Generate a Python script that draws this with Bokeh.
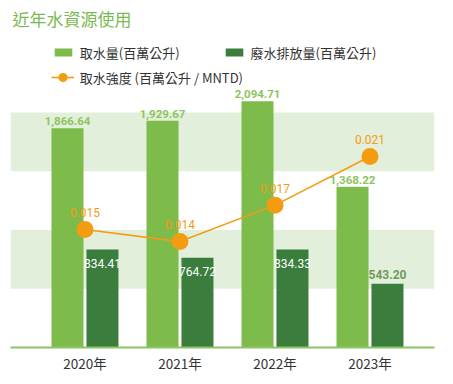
from bokeh.plotting import figure
from bokeh.models import Range1d, FixedTicker, Legend, LegendItem, Label, Grid, ColumnDataSource
from bokeh.core.properties import value
from bokeh.embed import file_html
from bokeh.resources import INLINE

# ---- data ----
years = ["2020年", "2021年", "2022年", "2023年"]
withdrawal = [1866.64, 1929.67, 2094.71, 1368.22]
discharge = [834.41, 764.72, 834.33, 543.20]
intensity = [0.015, 0.014, 0.017, 0.021]
withdrawal_labels = ["1,866.64", "1,929.67", "2,094.71", "1,368.22"]
discharge_labels = ["834.41", "764.72", "834.33", "543.20"]
intensity_labels = ["0.015", "0.014", "0.017", "0.021"]
band_ticks = [0, 500, 1000, 1500, 2000]

# ---- styles ----
LIGHT = "#7dbb4a"
DARK = "#3a7d3c"
ORANGE = "#f39c12"
BAND = "#e2efda"
AXIS = "#8cc466"
TEXT = "#333333"
CJK = "Noto Sans CJK TC"
NUM = "Roboto"

idx = list(range(len(years)))
off = 0.184
bw = 0.337

src = ColumnDataSource(dict(
    xl=[i - off for i in idx], xd=[i + off for i in idx], xc=idx,
    withdrawal=withdrawal, discharge=discharge, intensity=intensity,
    wl=withdrawal_labels, dl=discharge_labels, il=intensity_labels,
))
inside = [i for i, v in enumerate(discharge) if v > 600]
outside = [i for i, v in enumerate(discharge) if v <= 600]
src_in = ColumnDataSource(dict(x=[idx[i] + off for i in inside], y=[discharge[i] for i in inside],
                               t=[discharge_labels[i] for i in inside]))
src_out = ColumnDataSource(dict(x=[idx[i] + off for i in outside], y=[discharge[i] for i in outside],
                                t=[discharge_labels[i] for i in outside]))

p = figure(width=448, height=378, output_backend="svg", toolbar_location=None,
           x_range=Range1d(-0.784, 3.679), y_range=Range1d(0, 2953),
           y_axis_location=None, min_border_left=10, min_border_right=14,
           min_border_top=0, min_border_bottom=31)
p.extra_y_ranges = {"int": Range1d(0.00529, 0.03383)}
p.outline_line_color = None
p.background_fill_color = "white"
for g in p.grid:
    g.visible = False

band_grid = Grid(dimension=1, ticker=FixedTicker(ticks=band_ticks),
                 grid_line_color=None, band_fill_color=BAND, band_fill_alpha=1.0)
p.add_layout(band_grid)

ax = p.xaxis[0]
ax.ticker = FixedTicker(ticks=idx)
ax.major_label_overrides = {i: y for i, y in zip(idx, years)}
ax.axis_line_color = AXIS
ax.axis_line_width = 2
ax.major_tick_line_color = None
ax.minor_tick_line_color = None
ax.major_tick_out = 0
ax.major_tick_in = 0
ax.minor_tick_out = 0
ax.minor_tick_in = 0
ax.major_label_text_font = CJK
ax.major_label_text_font_size = "13.5px"
ax.major_label_text_color = TEXT
ax.major_label_standoff = 5

r1 = p.vbar(x="xl", top="withdrawal", width=bw, source=src, fill_color=LIGHT, line_color=None)
r2 = p.vbar(x="xd", top="discharge", width=bw, source=src, fill_color=DARK, line_color=None)
r3 = p.line(x="xc", y="intensity", source=src, y_range_name="int", line_color=ORANGE, line_width=1.6)
r4 = p.scatter(x="xc", y="intensity", source=src, y_range_name="int", size=17,
               fill_color=ORANGE, line_color=None)

p.text(x="xl", y="withdrawal", text="wl", source=src, text_align="center", text_baseline="bottom",
       y_offset=-3, text_font=value(NUM), text_font_size="11.5px", text_font_style="bold",
       text_color="#8cc55e")
p.text(x="x", y="y", text="t", source=src_in, text_align="center", text_baseline="middle",
       y_offset=14, text_font=value(NUM), text_font_size="12px", text_color="white")
p.text(x="x", y="y", text="t", source=src_out, text_align="center", text_baseline="middle",
       y_offset=-9, text_font=value(NUM), text_font_size="12px", text_font_style="bold",
       text_color="#6f9a5e")
p.text(x="xc", y="intensity", text="il", source=src, y_range_name="int", text_align="center",
       text_baseline="middle", y_offset=-17, text_font=value(NUM), text_font_size="12px",
       text_color=ORANGE)

leg1 = Legend(items=[LegendItem(label="取水量(百萬公升)", renderers=[r1]),
                     LegendItem(label="廢水排放量(百萬公升)", renderers=[r2])],
              orientation="horizontal", location=(41.8, 285.5),
              glyph_width=22, glyph_height=10, label_standoff=6, spacing=43,
              padding=0, margin=0, border_line_color=None, background_fill_alpha=0,
              label_text_font=CJK, label_text_font_size="13px", label_text_color=TEXT)
leg2 = Legend(items=[LegendItem(label="取水強度 (百萬公升 / MNTD)", renderers=[r3, r4])],
              orientation="horizontal", location=(40.7, 258),
              glyph_width=23, glyph_height=24, label_height=24, label_standoff=6,
              padding=0, margin=0, border_line_color=None, background_fill_alpha=0,
              label_text_font=CJK, label_text_font_size="13px", label_text_color=TEXT)
p.add_layout(leg1)
p.add_layout(leg2)

title = Label(x=2, y=329, x_units="screen", y_units="screen", text="近年水資源使用",
              text_font=CJK, text_font_size="17px", text_color="#7ab951", text_baseline="middle")
p.add_layout(title)

open("out.html", "w").write(file_html(p, INLINE))
